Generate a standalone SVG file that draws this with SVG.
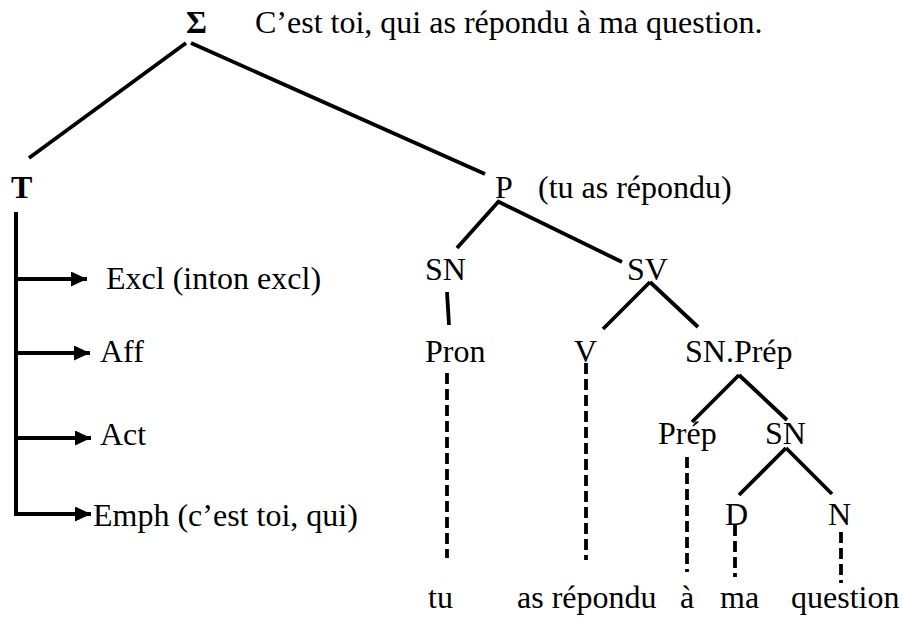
<svg xmlns="http://www.w3.org/2000/svg" width="902" height="619" viewBox="0 0 902 619">
<style>
text{font-family:"Liberation Serif","Times New Roman",serif;font-size:32px;fill:#000}
.b{font-weight:bold}
.e{stroke:#000;stroke-width:3.8;fill:none}
.d{stroke:#000;stroke-width:3.8;fill:none;stroke-dasharray:11 5}
</style>
<defs>
<marker id="ah" markerUnits="userSpaceOnUse" markerWidth="18" markerHeight="16" refX="16" refY="7.5" orient="auto">
<path d="M0,0 L16,7.5 L0,15 Z" fill="#000"/>
</marker>
</defs>
<rect width="902" height="619" fill="#fff"/>
<g id="sigma"><text x="186" y="33" class="b">Σ</text><text x="255" y="33">C’est toi, qui as répondu à ma question.</text></g>
<g id="T"><text x="11" y="198" class="b">T</text></g>
<g id="P"><text x="495" y="198">P</text><text x="538" y="198">(tu as répondu)</text></g>
<g id="excl"><text x="106" y="289">Excl (inton excl)</text></g>
<g id="aff"><text x="100" y="362">Aff</text></g>
<g id="act"><text x="100" y="445">Act</text></g>
<g id="emph"><text x="93" y="526">Emph (c’est toi, qui)</text></g>
<g id="SN1"><text x="425" y="280">SN</text></g>
<g id="SV"><text x="627" y="280">SV</text></g>
<g id="Pron"><text x="425" y="362">Pron</text></g>
<g id="V"><text x="574" y="362">V</text></g>
<g id="SNPrep"><text x="685" y="362">SN.Prép</text></g>
<g id="Prep"><text x="658" y="444">Prép</text></g>
<g id="SN2"><text x="765" y="444">SN</text></g>
<g id="D"><text x="725" y="525">D</text></g>
<g id="N"><text x="828" y="525">N</text></g>
<g id="w-tu"><text x="428" y="608">tu</text></g>
<g id="w-as"><text x="517" y="608">as répondu</text></g>
<g id="w-a"><text x="680" y="608">à</text></g>
<g id="w-ma"><text x="720" y="608">ma</text></g>
<g id="w-question"><text x="791" y="608">question</text></g>
<g id="connectors">
<line class="e" x1="186" y1="43" x2="29" y2="158"/>
<line class="e" x1="191" y1="43" x2="485" y2="174"/>
<path class="e" style="stroke-width:4" d="M16,212 V514 H91" marker-end="url(#ah)"/>
<line class="e" x1="16" y1="279" x2="87" y2="279" marker-end="url(#ah)"/>
<line class="e" x1="16" y1="353" x2="90" y2="353" marker-end="url(#ah)"/>
<line class="e" x1="16" y1="438" x2="91" y2="438" marker-end="url(#ah)"/>
<line class="e" x1="499" y1="201" x2="457" y2="248"/>
<line class="e" x1="497" y1="201" x2="622" y2="262"/>
<line class="e" x1="447" y1="292" x2="449" y2="325"/>
<line class="e" x1="650" y1="282" x2="603" y2="329"/>
<line class="e" x1="650" y1="282" x2="698" y2="327"/>
<line class="e" x1="739" y1="375" x2="692" y2="422"/>
<line class="e" x1="739" y1="375" x2="787" y2="420"/>
<line class="e" x1="786" y1="448" x2="739" y2="495"/>
<line class="e" x1="786" y1="448" x2="832" y2="494"/>
<line class="d" x1="447" y1="373" x2="447" y2="558"/>
<line class="d" x1="586" y1="363" x2="586" y2="560"/>
<line class="d" x1="687" y1="457" x2="687" y2="572"/>
<line class="d" x1="735" y1="525" x2="735" y2="577"/>
<line class="d" x1="841" y1="532" x2="841" y2="583"/>
</g>
</svg>
